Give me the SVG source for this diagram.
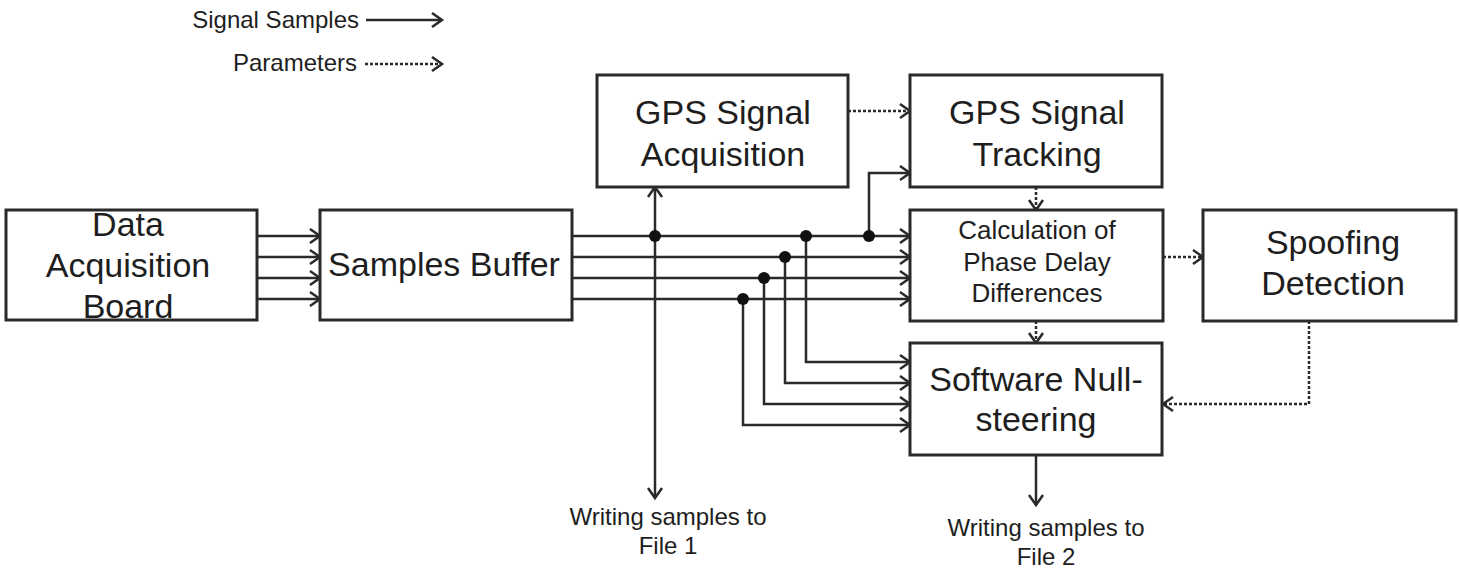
<svg xmlns="http://www.w3.org/2000/svg" width="1460" height="578" viewBox="0 0 1460 578">
<style>
.box{fill:#fff;stroke:#2a2a2a;stroke-width:3}
.t{font-family:"Liberation Sans",Arial,sans-serif;fill:#1e1e1e;text-anchor:middle}
.big{font-size:34px}
.mid{font-size:26px}
.sm{font-size:24px}
.ln{fill:none;stroke:#2a2a2a;stroke-width:2.5}
.sig{marker-end:url(#ah)}
.dot{fill:none;stroke:#2a2a2a;stroke-width:2.5;stroke-dasharray:3 2;marker-end:url(#ah)}
.j{fill:#111}
</style>
<defs>
<marker id="ah" markerUnits="userSpaceOnUse" markerWidth="24" markerHeight="24" viewBox="-12 -12 24 24" refX="0" refY="0" orient="auto">
<path d="M-10,-7 L0,0 L-10,7" fill="none" stroke="#2a2a2a" stroke-width="2.5"/>
</marker>
</defs>
<rect width="1460" height="578" fill="#fff"/>

<g id="legend">
<text class="t sm" x="359" y="28" text-anchor="end" style="text-anchor:end">Signal Samples</text>
<line class="ln sig" x1="366" y1="20" x2="442" y2="20"/>
<text class="t sm" x="357" y="71" style="text-anchor:end">Parameters</text>
<line class="dot" x1="365" y1="64" x2="442" y2="64"/>
</g>

<g id="connectors">
<!-- DAB to Samples Buffer -->
<line class="ln sig" x1="257" y1="236" x2="320" y2="236"/>
<line class="ln sig" x1="257" y1="257" x2="320" y2="257"/>
<line class="ln sig" x1="257" y1="278" x2="320" y2="278"/>
<line class="ln sig" x1="257" y1="299" x2="320" y2="299"/>
<!-- Samples Buffer to Calculation -->
<line class="ln sig" x1="572" y1="236" x2="910" y2="236"/>
<line class="ln sig" x1="572" y1="257" x2="910" y2="257"/>
<line class="ln sig" x1="572" y1="278" x2="910" y2="278"/>
<line class="ln sig" x1="572" y1="299" x2="910" y2="299"/>
<!-- to acquisition and file 1 -->
<line class="ln sig" x1="655" y1="236" x2="655" y2="187"/>
<line class="ln sig" x1="655" y1="236" x2="655" y2="498"/>
<!-- to tracking -->
<polyline class="ln sig" points="869,236 869,173 910,173"/>
<!-- to null-steering -->
<polyline class="ln sig" points="806,236 806,362 910,362"/>
<polyline class="ln sig" points="785,257 785,383 910,383"/>
<polyline class="ln sig" points="764,278 764,404 910,404"/>
<polyline class="ln sig" points="743,299 743,425 910,425"/>
<!-- null-steering to file 2 -->
<line class="ln sig" x1="1036" y1="455" x2="1036" y2="505"/>
<!-- parameter flows -->
<line class="dot" x1="848" y1="111" x2="910" y2="111"/>
<line class="dot" x1="1036" y1="187" x2="1036" y2="210"/>
<line class="dot" x1="1036" y1="321" x2="1036" y2="343"/>
<line class="dot" x1="1163" y1="257" x2="1203" y2="257"/>
<polyline class="dot" points="1309,321 1309,404 1163,404"/>
<!-- junctions -->
<circle class="j" cx="655" cy="236" r="6"/>
<circle class="j" cx="806" cy="236" r="6"/>
<circle class="j" cx="869" cy="236" r="6"/>
<circle class="j" cx="785" cy="257" r="6"/>
<circle class="j" cx="764" cy="278" r="6"/>
<circle class="j" cx="743" cy="299" r="6"/>
</g>

<g id="data-acquisition-board">
<rect class="box" x="6" y="210" width="251" height="110"/>
<text class="t big" x="128" y="236">Data</text>
<text class="t big" x="128" y="277">Acquisition</text>
<text class="t big" x="128" y="318">Board</text>
</g>

<g id="samples-buffer">
<rect class="box" x="320" y="210" width="252" height="110"/>
<text class="t big" x="444" y="276">Samples Buffer</text>
</g>

<g id="gps-signal-acquisition">
<rect class="box" x="597" y="75" width="251" height="112"/>
<text class="t big" x="723" y="124">GPS Signal</text>
<text class="t big" x="723" y="166">Acquisition</text>
</g>

<g id="gps-signal-tracking">
<rect class="box" x="910" y="75" width="252" height="112"/>
<text class="t big" x="1037" y="124">GPS Signal</text>
<text class="t big" x="1037" y="166">Tracking</text>
</g>

<g id="phase-delay-differences">
<rect class="box" x="910" y="210" width="253" height="111"/>
<text class="t mid" x="1037" y="239">Calculation of</text>
<text class="t mid" x="1037" y="271">Phase Delay</text>
<text class="t mid" x="1037" y="302">Differences</text>
</g>

<g id="spoofing-detection">
<rect class="box" x="1203" y="210" width="253" height="111"/>
<text class="t big" x="1333" y="254">Spoofing</text>
<text class="t big" x="1333" y="295">Detection</text>
</g>

<g id="software-null-steering">
<rect class="box" x="910" y="343" width="252" height="112"/>
<text class="t big" x="1036" y="391">Software Null-</text>
<text class="t big" x="1036" y="431">steering</text>
</g>

<g id="file-1">
<text class="t sm" x="668" y="525">Writing samples to</text>
<text class="t sm" x="668" y="554">File 1</text>
</g>

<g id="file-2">
<text class="t sm" x="1046" y="536">Writing samples to</text>
<text class="t sm" x="1046" y="565">File 2</text>
</g>
</svg>
